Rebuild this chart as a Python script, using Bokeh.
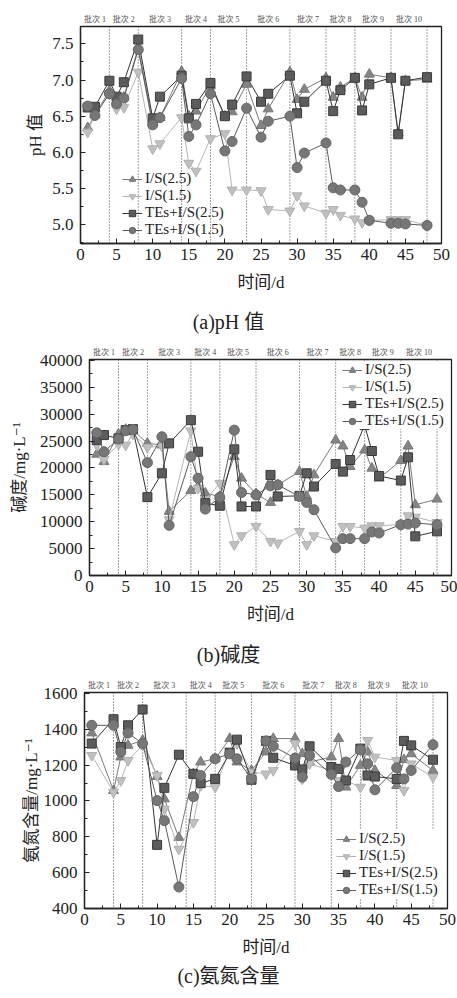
from bokeh.plotting import figure
from bokeh.layouts import column
from bokeh.models import (Range1d, Span, LinearAxis, FixedTicker, SingleIntervalTicker,
                          PrintfTickFormatter, Div)
from bokeh.embed import file_html
from bokeh.resources import INLINE

# ---------------- data ----------------
batch_bounds = [4, 8, 14, 18, 23, 29, 34, 38, 43, 48]
batch_names = ["批次 1", "批次 2", "批次 3", "批次 4", "批次 5",
               "批次 6", "批次 7", "批次 8", "批次 9", "批次 10"]
series_names = ["I/S(2.5)", "I/S(1.5)", "TEs+I/S(2.5)", "TEs+I/S(1.5)"]
captions = ["(a)pH 值", "(b)碱度", "(c)氨氮含量"]

day_ab = [1, 2, 4, 5, 6, 8, 10, 11, 14, 15, 16, 18, 20, 21, 23, 25, 26, 29, 30, 31,
          34, 35, 36, 38, 39, 40, 43, 44, 45, 48]
day_c = [1, 4, 5, 6, 8, 10, 11, 13, 15, 16, 18, 20, 21, 23, 25, 26, 29, 30, 31,
         34, 35, 36, 38, 39, 40, 43, 44, 45, 48]

ph_is25 = [6.34, 6.52, 6.85, 6.71, 6.76, 7.45, 6.41, 6.48, 7.12, 6.50, 6.57, 6.92, 6.50, 6.56, 6.94,
           6.37, 6.60, 7.11, 6.73, 6.87, 7.03, 6.76, 6.90, 7.03, 6.76, 7.08, 7.03, 6.27, 6.99, 7.01]
ph_is15 = [6.28, 6.53, 6.81, 6.60, 6.62, 7.11, 6.05, 6.12, 6.48, 5.85, 5.74, 6.19, 6.26, 5.48, 5.48,
           5.47, 5.21, 5.19, 5.40, 5.26, 5.16, 5.21, 5.13, 5.08, 5.03, 5.06, 5.07, 5.07, 5.07, 4.99]
ph_te25 = [6.62, 6.63, 6.99, 6.77, 6.97, 7.56, 6.47, 6.77, 7.06, 6.47, 6.67, 6.96, 6.50, 6.66, 7.05,
           6.70, 6.81, 7.06, 6.54, 6.70, 6.99, 6.57, 6.86, 7.03, 6.58, 6.94, 7.03, 6.25, 6.99, 7.04]
ph_te15 = [6.64, 6.51, 6.81, 6.67, 6.75, 7.42, 6.38, 6.48, 7.02, 6.22, 6.38, 6.81, 6.02, 6.15, 6.61,
           6.21, 6.43, 6.50, 5.79, 5.99, 6.13, 5.51, 5.48, 5.48, 5.31, 5.06, 5.02, 5.02, 5.01, 4.99]

alk_is25 = [22520, 21160, 26290, 27150, 27020, 24560, 24250, 11910, 15800, 16540, 15300, 14690,
            22090, 18080, 15180, 13570, 16840, 19310, 14690, 18700, 25170, 24060, 20240, 23320,
            19930, 18080, 21350, 24060, 13140, 14190]
alk_is15 = [24250, 21600, 24430, 24250, 26290, 23820, 24060, 10370, 26900, 16230, 14070, 17150,
            5740, 7400, 9130, 6360, 6050, 8210, 5740, 7400, 6360, 9130, 9130, 8820, 9260, 9260,
            9440, 11110, 10860, 9870]
alk_te25 = [25170, 26100, 25480, 27020, 27210, 14560, 19000, 24560, 28880, 23010, 13450, 12960,
            23450, 12830, 12830, 18700, 14690, 14810, 19000, 16540, 20730, 19310, 21470, 27950,
            23140, 18510, 17650, 21970, 7280, 8210]
alk_te15 = [26530, 23010, 25360, 26900, 27150, 20980, 25790, 9320, 22090, 18080, 12340, 14560,
            27020, 15430, 14990, 16660, 16840, 14690, 13570, 12220, 5120, 6850, 6850, 6850, 8080,
            7900, 9440, 9560, 9750, 9440]

nh_is25 = [1379, 1058, 1245, 1310, 1338, 1136, 1011, 796, 1151, 1217, 1235, 1348, 1217, 1170, 1273,
           1348, 1348, 1263, 1217, 1245, 1348, 1077, 1198, 1273, 1170, 1086, 1230, 1263, 1170]
nh_is15 = [1254, 1049, 1114, 1226, 1310, 1142, 955, 731, 880, 1086, 1077, 1282, 1320, 1161, 1151,
           1170, 1320, 1123, 1207, 1170, 1114, 1114, 1077, 1338, 1245, 1226, 1058, 1207, 1133]
nh_te25 = [1320, 1456, 1301, 1422, 1510, 755, 1073, 1258, 1151, 1099, 1123, 1267, 1342, 1118, 1335,
           1241, 1198, 1176, 1305, 1189, 1179, 1114, 1292, 1142, 1136, 1123, 1335, 1310, 1230]
nh_te15 = [1422, 1422, 1273, 1379, 1320, 1002, 890, 520, 1024, 1142, 1235, 1263, 1235, 1123, 1335,
           1305, 1239, 1133, 1254, 1148, 1080, 1217, 1286, 1207, 1062, 1185, 1123, 1170, 1314]

# ---------------- style ----------------
FONT = "Liberation Serif, Noto Sans CJK SC, DejaVu Serif"
STYLES = [
    dict(marker="triangle", fill="#858585", edge="#777777", line="#7a7a7a", size=10),
    dict(marker="inverted_triangle", fill="#c0c0c0", edge="#b0b0b0", line="#b5b5b5", size=10),
    dict(marker="square", fill="#5c5c5c", edge="#3a3a3a", line="#333333", size=9),
    dict(marker="circle", fill="#777777", edge="#666666", line="#5a5a5a", size=10),
]


def make_panel(days, series, yr, yticker, yfmt, ylabel, geom, ylab_standoff,
               legend_loc, legend_bg):
    fw, fh, ml, mr, mt, mb = geom
    p = figure(frame_width=fw, frame_height=fh, min_border_left=ml, min_border_right=mr,
               min_border_top=mt, min_border_bottom=mb,
               x_range=Range1d(0, 50), y_range=Range1d(*yr),
               output_backend="svg", toolbar_location=None,
               x_axis_label="时间/d", y_axis_label=ylabel)
    if "frame_align" in p.properties():
        p.frame_align = False
    p.xgrid.visible = False
    p.ygrid.visible = False
    p.outline_line_color = "#222222"
    p.outline_line_width = 1.3
    p.background_fill_color = "white"
    p.border_fill_color = "white"

    for b in batch_bounds:
        p.add_layout(Span(location=b, dimension="height", line_color="#444444",
                          line_width=1, line_dash="1 2", level="underlay"))

    for name, vals, st in zip(series_names, series, STYLES):
        p.line(days, vals, line_color=st["line"], line_width=1, legend_label=name)
        p.scatter(days, vals, marker=st["marker"], size=st["size"], fill_color=st["fill"],
                  line_color=st["edge"], line_width=1, legend_label=name)

    p.xaxis.ticker = SingleIntervalTicker(interval=5, num_minor_ticks=2)
    p.yaxis.ticker = yticker
    if yfmt is not None:
        p.yaxis.formatter = yfmt
    for ax in (p.xaxis[0], p.yaxis[0]):
        ax.axis_line_color = "#222222"
        ax.axis_line_width = 1.3
        ax.major_tick_in = 5
        ax.major_tick_out = 0
        ax.minor_tick_in = 3
        ax.minor_tick_out = 0
        ax.major_tick_line_color = "#222222"
        ax.minor_tick_line_color = "#222222"
        ax.major_label_text_font = FONT
        ax.major_label_text_font_size = "17px"
        ax.major_label_text_color = "#222222"
        ax.axis_label_text_font = FONT
        ax.axis_label_text_font_size = "17px"
        ax.axis_label_text_font_style = "normal"
        ax.axis_label_text_color = "#222222"
    p.xaxis.major_label_standoff = 5
    p.xaxis.axis_label_standoff = 10
    p.yaxis.major_label_standoff = 7
    p.yaxis.axis_label_standoff = ylab_standoff

    centers = [(a + b) / 2 for a, b in zip([0] + batch_bounds[:-1], batch_bounds)]
    top = LinearAxis(ticker=FixedTicker(ticks=centers),
                     major_label_overrides={c: n for c, n in zip(centers, batch_names)},
                     axis_line_color=None, major_tick_line_color=None, minor_tick_line_color=None,
                     major_label_text_font=FONT, major_label_text_font_size="8px",
                     major_label_text_color="#505050", major_label_standoff=-3)
    p.add_layout(top, "above")

    lg = p.legend[0]
    lg.location = legend_loc
    lg.padding = 0
    lg.margin = 0
    lg.spacing = 0
    lg.label_height = 16
    lg.glyph_height = 16
    lg.glyph_width = 20
    lg.label_standoff = 3
    lg.border_line_color = None
    lg.background_fill_color = "white"
    lg.background_fill_alpha = legend_bg
    lg.label_text_font = FONT
    lg.label_text_font_size = "15px"
    lg.label_text_color = "#222222"
    return p


def caption_div(text, height, center):
    html = ('<div style="width:446px;padding-left:11px;text-align:center;'
            'font-family:\'Liberation Serif\',\'Noto Sans CJK SC\',serif;font-size:20px;'
            'color:#222222;line-height:%dpx;white-space:nowrap;">%s</div>' % (2 * center, text))
    return Div(text=html, width=457, height=height, margin=0)


pa = make_panel(day_ab, [ph_is25, ph_is15, ph_te25, ph_te15], (4.74, 7.74),
                SingleIntervalTicker(interval=0.5, num_minor_ticks=2), PrintfTickFormatter(format="%.1f"),
                "pH 值", (361, 217, 80, 16, 26, 63), 4, (42, 5), 0.0)
pb = make_panel(day_ab, [alk_is25, alk_is15, alk_te25, alk_te15], (0, 40150),
                SingleIntervalTicker(interval=5000, num_minor_ticks=2), None,
                "碱度/mg·L⁻¹", (362, 216, 89, 6, 23, 62), 8, (253, 146), 1.0)
pc = make_panel(day_c, [nh_is25, nh_is15, nh_te25, nh_te15], (400, 1605),
                SingleIntervalTicker(interval=200, num_minor_ticks=2), None,
                "氨氮含量/mg·L⁻¹", (363, 216, 84, 10, 24, 50), 0, (252, 10), 1.0)

ca = caption_div(captions[0], 30, 16)
cb = caption_div(captions[1], 31, 18)
cc = caption_div(captions[2], 40, 17)

layout = column(pa, ca, pb, cb, pc, cc, spacing=0)
open("out.html", "w").write(file_html(layout, INLINE))
